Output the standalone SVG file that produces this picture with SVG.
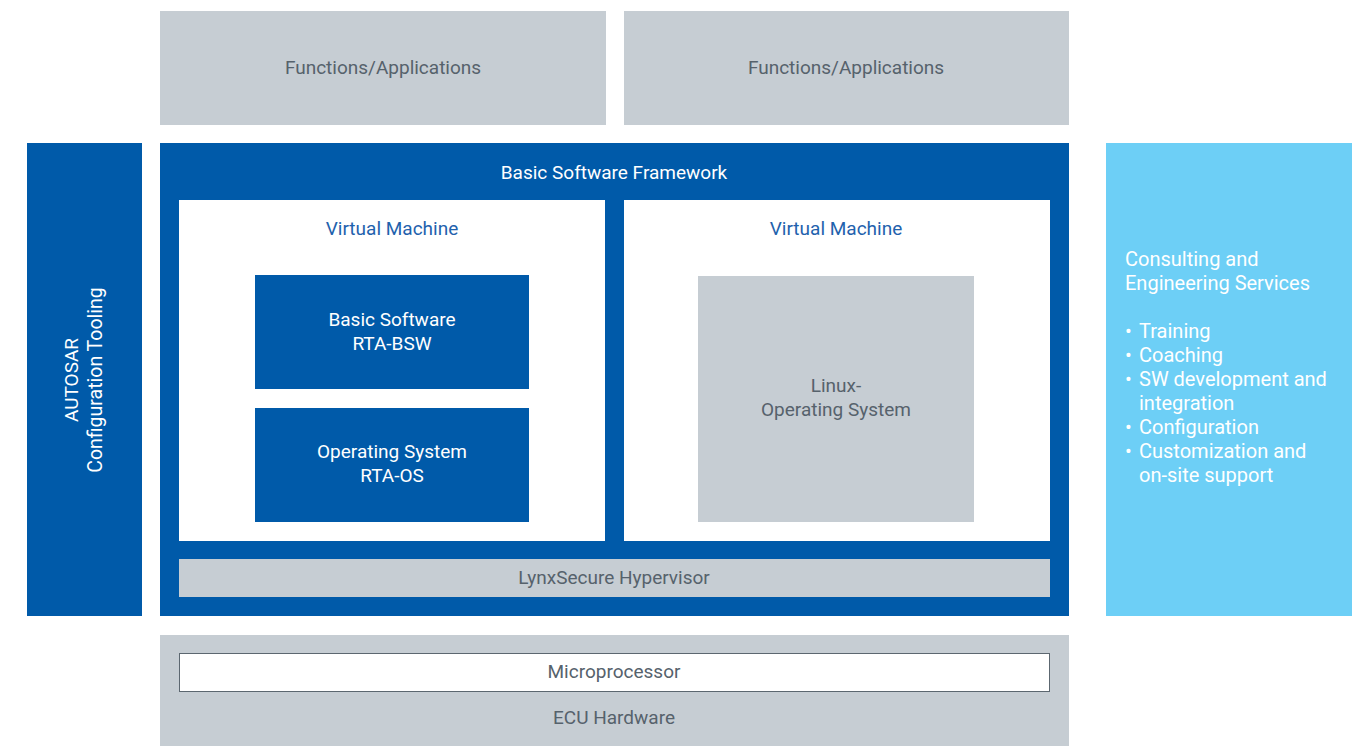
<svg xmlns="http://www.w3.org/2000/svg" width="1367" height="746" viewBox="0 0 1367 746">
<style>
.gray{fill:#c6cdd3}
.blue{fill:#005aa9}
.white{fill:#ffffff}
.lb{fill:#6dcff6}
text{font-family:Roboto,"Noto Sans","Liberation Sans",sans-serif;font-size:19px}
.tg{fill:#56626c;text-anchor:middle}
.tw{fill:#ffffff;text-anchor:middle}
.tb{fill:#1f62ad;text-anchor:middle}
.tl{fill:#ffffff;font-size:20px}
</style>
<rect class="white" x="0" y="0" width="1367" height="746"/>
<g id="app1"><rect class="gray" x="160" y="11" width="446" height="114"/><text class="tg" x="383" y="74">Functions/Applications</text></g>
<g id="app2"><rect class="gray" x="624" y="11" width="445" height="114"/><text class="tg" x="846" y="74">Functions/Applications</text></g>
<g id="autosar"><rect class="blue" x="27" y="143" width="115" height="473"/>
<text class="tw" transform="translate(78,380) rotate(-90)">AUTOSAR</text>
<text class="tw" transform="translate(102,380) rotate(-90)" style="font-size:19.5px">Configuration Tooling</text></g>
<g id="bsf"><rect class="blue" x="160" y="143" width="909" height="473"/><text class="tw" x="614" y="179">Basic Software Framework</text></g>
<g id="vm1"><rect class="white" x="179" y="200" width="426" height="341"/><text class="tb" x="392" y="235">Virtual Machine</text></g>
<g id="vm2"><rect class="white" x="624" y="200" width="426" height="341"/><text class="tb" x="836" y="235">Virtual Machine</text></g>
<g id="bsw"><rect class="blue" x="255" y="275" width="274" height="114"/><text class="tw" x="392" y="326">Basic Software</text><text class="tw" x="392" y="350">RTA-BSW</text></g>
<g id="os"><rect class="blue" x="255" y="408" width="274" height="114"/><text class="tw" x="392" y="458">Operating System</text><text class="tw" x="392" y="482">RTA-OS</text></g>
<g id="linux"><rect class="gray" x="698" y="276" width="276" height="246"/><text class="tg" x="836" y="392">Linux-</text><text class="tg" x="836" y="416">Operating System</text></g>
<g id="hyp"><rect class="gray" x="179" y="559" width="871" height="38"/><text class="tg" x="614" y="584">LynxSecure Hypervisor</text></g>
<g id="ecu"><rect class="gray" x="160" y="635" width="909" height="111"/><text class="tg" x="614" y="724">ECU Hardware</text></g>
<g id="micro"><rect class="white" x="179.5" y="653.5" width="870" height="38" stroke="#5c6770" stroke-width="1"/><text class="tg" x="614" y="678">Microprocessor</text></g>
<g id="services"><rect class="lb" x="1106" y="143" width="246" height="473"/>
<text class="tl" x="1125" y="266">Consulting and</text>
<text class="tl" x="1125" y="290">Engineering Services</text>
<text class="tl" x="1125" y="338">•</text><text class="tl" x="1139" y="338">Training</text>
<text class="tl" x="1125" y="362">•</text><text class="tl" x="1139" y="362">Coaching</text>
<text class="tl" x="1125" y="386">•</text><text class="tl" x="1139" y="386">SW development and</text>
<text class="tl" x="1139" y="410">integration</text>
<text class="tl" x="1125" y="434">•</text><text class="tl" x="1139" y="434">Configuration</text>
<text class="tl" x="1125" y="458">•</text><text class="tl" x="1139" y="458">Customization and</text>
<text class="tl" x="1139" y="482">on-site support</text>
</g>
<g id="connectors"></g>
</svg>
